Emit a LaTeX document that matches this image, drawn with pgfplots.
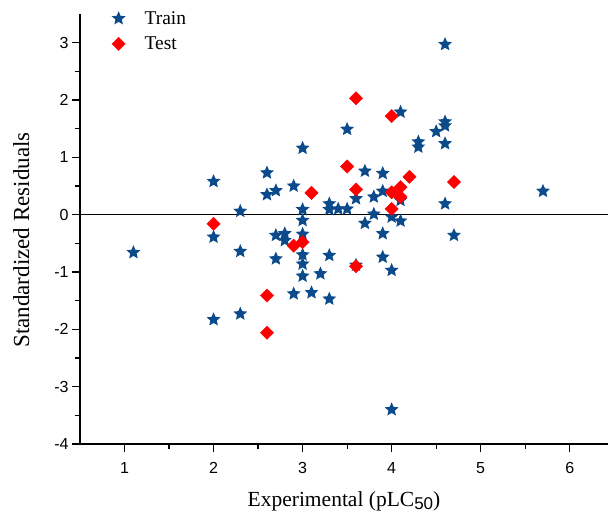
\documentclass[border=0pt]{standalone}
\usepackage{pgfplots}
\pgfplotsset{compat=1.18}
\usepackage{fontspec}
\setmainfont{Liberation Serif}
\newfontfamily\sansfont{Liberation Sans}
\definecolor{trainblue}{HTML}{0B4A8B}
\definecolor{testred}{HTML}{FF0000}
\pgfdeclareplotmark{fstar}{%
  \pgfpathmoveto{\pgfpointpolar{90}{\pgfplotmarksize}}%
  \pgfpathlineto{\pgfpointpolar{126}{0.46\pgfplotmarksize}}%
  \pgfpathlineto{\pgfpointpolar{162}{\pgfplotmarksize}}%
  \pgfpathlineto{\pgfpointpolar{198}{0.46\pgfplotmarksize}}%
  \pgfpathlineto{\pgfpointpolar{234}{\pgfplotmarksize}}%
  \pgfpathlineto{\pgfpointpolar{270}{0.46\pgfplotmarksize}}%
  \pgfpathlineto{\pgfpointpolar{306}{\pgfplotmarksize}}%
  \pgfpathlineto{\pgfpointpolar{342}{0.46\pgfplotmarksize}}%
  \pgfpathlineto{\pgfpointpolar{18}{\pgfplotmarksize}}%
  \pgfpathlineto{\pgfpointpolar{54}{0.46\pgfplotmarksize}}%
  \pgfpathclose
  \pgfusepathqfill
}
\begin{document}
\begin{tikzpicture}
\begin{axis}[
  scale only axis,
  width=528bp, height=430bp,
  xmin=0.5, xmax=6.43, ymin=-4, ymax=3.5,
  axis x line*=bottom, axis y line*=left,
  axis line style={line width=1.3bp, -},
  xtick={1,2,3,4,5,6}, ytick={-4,-3,-2,-1,0,1,2,3},
  minor x tick num=1, minor y tick num=1,
  tick align=outside,
  major tick length=8bp, minor tick length=5bp,
  tick style={line width=1.2bp, black},
  /pgf/number format/assume math mode=true,
  ticklabel style={font=\sansfont\fontsize{16bp}{18bp}\selectfont},
  xticklabel style={yshift=-7bp},
  xlabel={Experimental (pLC\raisebox{-0.3ex}{\sansfont\fontsize{17bp}{18bp}\selectfont 50})},
  ylabel={Standardized Residuals},
  xlabel style={font=\fontsize{21.5bp}{24bp}\selectfont},
  ylabel style={font=\fontsize{23bp}{26bp}\selectfont, xshift=-11bp},
  xlabel shift=11bp,
  ylabel shift=18bp,
  legend style={at={(0.054,1.016)}, anchor=north west, draw=none, fill=none,
    font=\fontsize{19.5bp}{22bp}\selectfont, row sep=7bp, column sep=17bp},
  legend cell align=left,
  clip=false,
]
\addplot[only marks, mark=fstar, mark size=7.3bp, color=trainblue] coordinates {
(1.1,-0.66)
(2.0,0.58) (2.0,-0.39) (2.0,-1.83)
(2.3,0.06) (2.3,-0.64) (2.3,-1.73)
(2.6,0.73) (2.6,0.35)
(2.7,0.42) (2.7,-0.36) (2.7,-0.77)
(2.8,-0.33) (2.8,-0.45)
(2.9,0.50) (2.9,-1.38)
(3.0,1.16) (3.0,0.09) (3.0,-0.10) (3.0,-0.34) (3.0,-0.70) (3.0,-0.86) (3.0,-1.07)
(3.1,-1.36)
(3.2,-1.03)
(3.3,0.19) (3.3,0.09) (3.3,-0.71) (3.3,-1.47)
(3.4,0.10)
(3.5,1.49) (3.5,0.10)
(3.6,0.28) (3.6,-0.88)
(3.7,0.76) (3.7,-0.15)
(3.8,0.31) (3.8,0.01)
(3.9,0.72) (3.9,0.41) (3.9,-0.33) (3.9,-0.74)
(4.0,-0.04) (4.0,-0.97) (4.0,-3.40)
(4.1,1.79) (4.1,0.25) (4.1,-0.11)
(4.3,1.27) (4.3,1.18)
(4.5,1.45)
(4.6,2.97) (4.6,1.62) (4.6,1.55) (4.6,1.24) (4.6,0.19)
(4.7,-0.36)
(5.7,0.41)
};
\addlegendentry{Train}
\addplot[only marks, mark=square*, mark size=4.7bp, mark options={rotate=45}, color=testred] coordinates {
(2.0,-0.16) (2.6,-1.41) (2.6,-2.06) (2.9,-0.54) (3.0,-0.48)
(3.1,0.38) (3.5,0.84) (3.6,0.44) (3.6,2.03) (3.6,-0.90)
(4.0,1.72) (4.0,0.39) (4.0,0.10) (4.1,0.48) (4.1,0.31)
(4.2,0.66) (4.7,0.57)
};
\addlegendentry{Test}
\addplot[black, line width=1.2bp, forget plot] coordinates {(0.5,0) (6.43,0)};
\end{axis}
\pgfresetboundingbox
\path[use as bounding box] (current axis.south west) ++(-80bp,-69bp) rectangle ++(608bp,513bp);
\end{tikzpicture}
\end{document}
